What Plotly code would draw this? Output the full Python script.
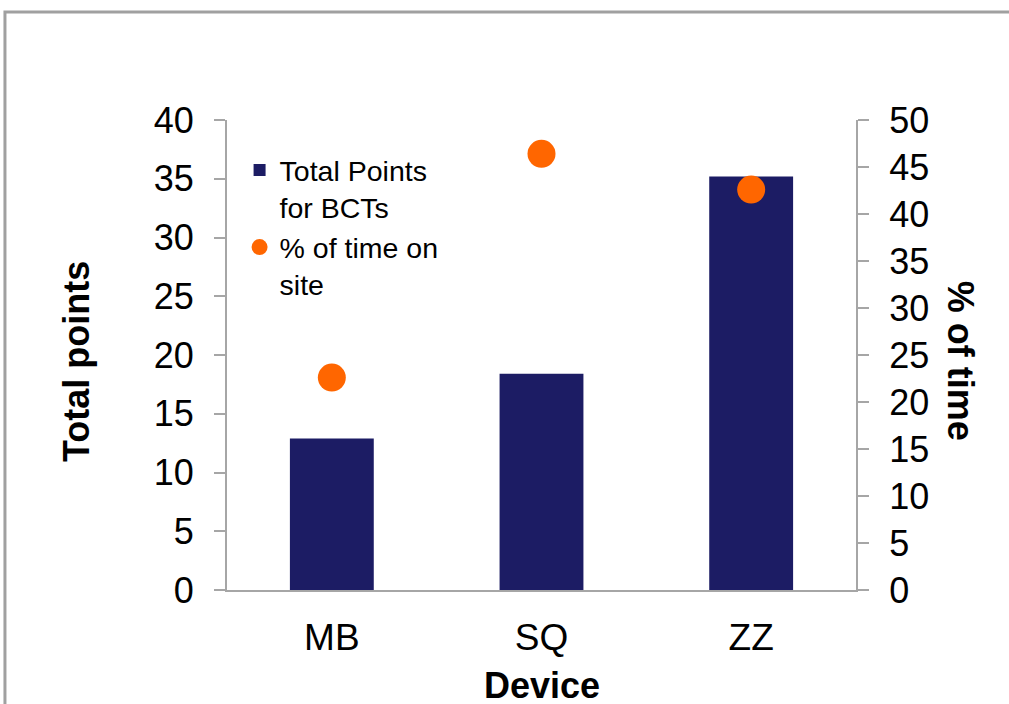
import plotly.graph_objects as go

categories = ["MB", "SQ", "ZZ"]
total_points = [12.9, 18.4, 35.2]
pct_time = [22.6, 46.4, 42.6]

left_ticks = [0, 5, 10, 15, 20, 25, 30, 35, 40]
right_ticks = [0, 5, 10, 15, 20, 25, 30, 35, 40, 45, 50]

FONT = "Liberation Sans, Arial, sans-serif"
GRAY = "#A6A6A6"

fig = go.Figure()
fig.add_trace(go.Bar(
    x=categories, y=total_points, name="Total Points<br>for BCTs",
    marker=dict(color="#1C1C64", line=dict(width=0)), width=0.4, yaxis="y",
))
fig.add_trace(go.Scatter(
    x=categories, y=pct_time, name="% of time on<br>site", mode="markers",
    marker=dict(color="#FF6600", size=28, line=dict(width=0)), yaxis="y2",
))

fig.update_layout(
    width=1009, height=704,
    margin=dict(l=227, r=153, t=120, b=114),
    paper_bgcolor="white", plot_bgcolor="white",
    font=dict(family=FONT, color="black"),
    showlegend=True,
    legend=dict(
        x=0.02, y=0.947, xanchor="left", yanchor="top",
        font=dict(size=28.5, family=FONT), bgcolor="rgba(0,0,0,0)",
        valign="top", tracegroupgap=0, itemwidth=30,
    ),
    xaxis=dict(
        showline=True, linecolor=GRAY, linewidth=2,
        ticks="outside", ticklen=14, tickcolor="rgba(0,0,0,0)",
        tickfont=dict(size=37, family=FONT), showgrid=False,
    ),
    yaxis=dict(
        range=[0, 40], tickvals=left_ticks, showline=True, linecolor=GRAY, linewidth=2,
        ticks="outside", ticklen=11, tickwidth=2, tickcolor=GRAY,
        tickfont=dict(size=36, family=FONT), showgrid=False, zeroline=False,
        ticklabelstandoff=13,
    ),
    yaxis2=dict(
        range=[0, 50], tickvals=right_ticks, overlaying="y", side="right",
        showline=True, linecolor=GRAY, linewidth=2,
        ticks="outside", ticklen=11, tickwidth=2, tickcolor=GRAY,
        tickfont=dict(size=36, family=FONT), showgrid=False, zeroline=False,
        ticklabelstandoff=13,
    ),
    annotations=[
        dict(text="<b>Total points</b>", x=-0.24, y=0.485, xref="paper", yref="paper",
             textangle=-90, showarrow=False, font=dict(size=36, family=FONT),
             xanchor="center", yanchor="middle"),
        dict(text="<b>% of time</b>", x=1.166, y=0.487, xref="paper", yref="paper",
             textangle=90, showarrow=False, font=dict(size=36, family=FONT),
             xanchor="center", yanchor="middle"),
        dict(text="<b>Device</b>", x=0.5, y=-0.204, xref="paper", yref="paper",
             showarrow=False, font=dict(size=36, family=FONT),
             xanchor="center", yanchor="middle"),
    ],
    shapes=[
        dict(type="rect", xref="paper", yref="paper", x0=-0.353, y0=-0.3, x1=1.3, y1=1.2298,
             line=dict(color="#A0A0A0", width=3), fillcolor="rgba(0,0,0,0)", layer="below"),
    ],
)

fig.write_html("out.html", config={"displayModeBar": False},
               post_script="document.body.style.margin='0';")
